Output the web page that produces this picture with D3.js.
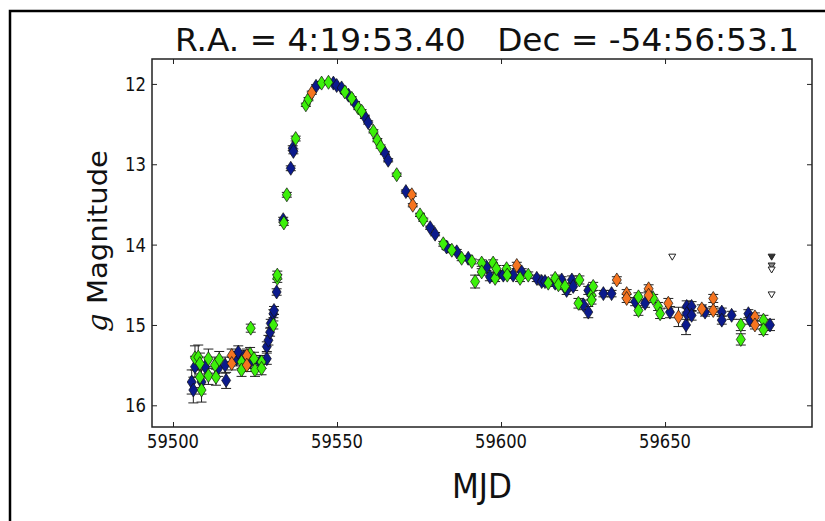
<!DOCTYPE html>
<html>
<head>
<meta charset="utf-8">
<script src="https://cdn.jsdelivr.net/npm/d3@7"></script>
<style>
  body { margin: 0; background: #fff; }
  text { font-family: "DejaVu Sans", sans-serif; fill: #111; white-space: pre; }
</style>
</head>
<body>
<div id="graph"></div>
<script>
// light curve points: [MJD, g mag, error]
const bluePts = [
  [59505.7, 15.71, 0.15], [59506.2, 15.81, 0.16], [59506.7, 15.52, 0.13], [59508.7, 15.71, 0.15],
  [59509.8, 15.52, 0.12], [59513.8, 15.54, 0.10], [59515.9, 15.50, 0.10], [59516.2, 15.69, 0.10],
  [59519.4, 15.42, 0.09], [59519.9, 15.34, 0.08], [59521.6, 15.40, 0.08], [59523.5, 15.46, 0.08],
  [59526.5, 15.46, 0.08], [59528.6, 15.42, 0.07], [59528.6, 15.27, 0.06], [59529.1, 15.19, 0.06],
  [59529.6, 15.09, 0.05], [59529.8, 14.98, 0.05], [59530.6, 14.86, 0.05], [59530.8, 14.82, 0.05],
  [59531.6, 14.59, 0.04], [59533.6, 13.69, 0.03], [59535.9, 13.05, 0.03], [59536.5, 12.80, 0.03],
  [59536.7, 12.84, 0.03], [59543.6, 12.03, 0.02], [59548.9, 11.99, 0.02], [59549.9, 12.02, 0.02],
  [59551.4, 12.05, 0.02], [59553.5, 12.14, 0.02], [59555.5, 12.24, 0.02], [59558.5, 12.41, 0.02],
  [59559.5, 12.48, 0.02], [59564.6, 12.86, 0.02], [59565.6, 12.95, 0.02], [59571.0, 13.34, 0.02],
  [59578.4, 13.79, 0.02], [59579.9, 13.87, 0.02], [59583.4, 14.03, 0.03], [59586.5, 14.09, 0.03],
  [59590.0, 14.17, 0.03], [59595.6, 14.28, 0.04], [59596.6, 14.40, 0.05], [59599.1, 14.36, 0.04],
  [59600.7, 14.38, 0.04], [59603.7, 14.38, 0.04], [59606.3, 14.34, 0.04], [59610.9, 14.42, 0.04],
  [59612.4, 14.46, 0.04], [59613.4, 14.46, 0.04], [59616.5, 14.48, 0.04], [59618.5, 14.44, 0.04],
  [59620.0, 14.57, 0.05], [59621.6, 14.44, 0.05], [59622.0, 14.52, 0.05], [59625.1, 14.75, 0.06],
  [59626.6, 14.84, 0.07], [59626.6, 14.57, 0.05], [59631.2, 14.61, 0.04], [59633.7, 14.61, 0.04],
  [59640.9, 14.71, 0.05], [59643.9, 14.73, 0.05], [59651.5, 14.84, 0.07], [59656.4, 15.00, 0.12],
  [59656.6, 14.77, 0.07], [59656.6, 14.86, 0.07], [59658.1, 14.77, 0.06], [59658.1, 14.88, 0.06],
  [59662.2, 14.84, 0.05], [59667.3, 14.84, 0.05], [59667.3, 14.94, 0.05], [59670.3, 14.88, 0.05],
  [59675.4, 14.86, 0.05], [59675.9, 14.94, 0.05], [59682.0, 15.00, 0.07]
];

const greenPts = [
  [59506.7, 15.41, 0.15], [59507.7, 15.40, 0.15], [59508.2, 15.48, 0.13], [59508.2, 15.65, 0.13],
  [59508.7, 15.81, 0.15], [59510.8, 15.42, 0.12], [59510.8, 15.63, 0.11], [59512.8, 15.50, 0.10],
  [59513.1, 15.65, 0.10], [59514.1, 15.43, 0.10], [59520.9, 15.46, 0.08], [59520.9, 15.56, 0.08],
  [59523.5, 15.36, 0.08], [59523.7, 15.04, 0.05], [59524.7, 15.42, 0.08], [59525.0, 15.56, 0.08],
  [59527.0, 15.46, 0.08], [59527.0, 15.54, 0.08], [59530.6, 15.00, 0.05], [59531.8, 14.42, 0.05],
  [59531.8, 14.38, 0.05], [59533.8, 13.73, 0.03], [59534.7, 13.38, 0.03], [59537.4, 12.68, 0.03],
  [59540.5, 12.26, 0.02], [59541.3, 12.19, 0.02], [59545.3, 11.99, 0.02], [59547.4, 11.98, 0.02],
  [59552.4, 12.10, 0.02], [59554.5, 12.18, 0.02], [59556.5, 12.30, 0.02], [59557.5, 12.34, 0.02],
  [59561.1, 12.59, 0.02], [59562.3, 12.70, 0.02], [59563.3, 12.78, 0.02], [59568.2, 13.13, 0.02],
  [59575.3, 13.63, 0.02], [59576.3, 13.69, 0.02], [59582.4, 13.99, 0.03], [59585.0, 14.07, 0.03],
  [59588.0, 14.17, 0.03], [59591.1, 14.21, 0.03], [59592.1, 14.46, 0.08], [59594.1, 14.23, 0.04],
  [59594.1, 14.34, 0.04], [59597.6, 14.23, 0.04], [59598.2, 14.42, 0.04], [59598.6, 14.30, 0.04],
  [59601.7, 14.30, 0.04], [59601.9, 14.38, 0.04], [59605.8, 14.42, 0.04], [59608.3, 14.38, 0.04],
  [59614.4, 14.48, 0.04], [59616.5, 14.42, 0.04], [59617.5, 14.50, 0.04], [59619.5, 14.52, 0.04],
  [59623.6, 14.73, 0.06], [59623.9, 14.44, 0.05], [59627.6, 14.63, 0.05], [59627.6, 14.69, 0.05],
  [59628.1, 14.52, 0.05], [59641.9, 14.65, 0.05], [59641.9, 14.82, 0.06], [59646.4, 14.67, 0.05],
  [59647.9, 14.77, 0.05], [59648.5, 14.86, 0.06], [59673.1, 15.00, 0.07], [59673.1, 15.18, 0.07],
  [59680.0, 14.94, 0.06], [59680.0, 15.06, 0.06]
];

const orangePts = [
  [59517.9, 15.38, 0.08], [59517.9, 15.48, 0.08], [59522.5, 15.38, 0.08], [59522.5, 15.50, 0.08],
  [59542.3, 12.11, 0.02], [59572.8, 13.38, 0.02], [59573.1, 13.51, 0.02], [59604.8, 14.26, 0.04],
  [59635.3, 14.44, 0.04], [59638.3, 14.61, 0.05], [59638.3, 14.67, 0.05], [59645.0, 14.55, 0.05],
  [59645.0, 14.63, 0.05], [59651.0, 14.73, 0.06], [59654.1, 14.90, 0.12], [59661.2, 14.80, 0.05],
  [59664.7, 14.67, 0.05], [59664.7, 14.82, 0.05], [59677.4, 14.90, 0.05], [59677.4, 15.00, 0.05]
];

// upper limits: [MJD, mag, fill]
const limitPts = [
  [59652.2, 14.15, "#fff"], [59682.5, 14.15, "#333"], [59682.5, 14.26, "#888"],
  [59682.5, 14.31, "#fff"], [59682.5, 14.62, "#fff"]
];

const xTicks = [59500, 59550, 59600, 59650];
const yTicks = [12, 13, 14, 15, 16];
const titleText = "R.A. = 4:19:53.40   Dec = -54:56:53.1";

const svgWidth = 825, svgHeight = 521;
const margin = {top: 59, left: 152, right: 13, bottom: 94};
const width = svgWidth - margin.left - margin.right;
const height = svgHeight - margin.top - margin.bottom;

const root = d3.select('#graph').append('svg')
  .attr('width', svgWidth).attr('height', svgHeight);

// outer frame (only left/top visible)
root.append('rect')
  .attr('x', 10).attr('y', 11).attr('width', 840).attr('height', 540)
  .attr('fill', 'none').attr('stroke', '#000').attr('stroke-width', 2.5);

const svg = root.append('g').attr('transform', `translate(${margin.left},${margin.top})`);

const x = d3.scaleLinear().domain([59493.6, 59694.8]).range([0, width]);
const y = d3.scaleLinear().domain([11.69, 16.27]).range([0, height]);

// ticks (inward, on all sides)
const tl = 5;
svg.append('g').call(d3.axisBottom(x).tickValues(xTicks).tickSize(-tl).tickFormat(''))
  .attr('transform', `translate(0,${height})`);
svg.append('g').call(d3.axisTop(x).tickValues(xTicks).tickSize(-tl).tickFormat(''));
svg.append('g').call(d3.axisLeft(y).tickValues(yTicks).tickSize(-tl).tickFormat(''));
svg.append('g').call(d3.axisRight(y).tickValues(yTicks).tickSize(-tl).tickFormat(''))
  .attr('transform', `translate(${width},0)`);
svg.selectAll('.domain').remove();
svg.selectAll('.tick line').attr('stroke', '#222').attr('stroke-width', 1);

// tick labels (slightly narrow glyphs like the reference)
svg.selectAll('.xlab').data(xTicks).enter().append('text')
  .attr('x', d => x(d)).attr('y', height + 21)
  .attr('text-anchor', 'middle').attr('font-size', 19)
  .attr('textLength', 52).attr('lengthAdjust', 'spacingAndGlyphs')
  .text(d => d);
svg.selectAll('.ylab').data(yTicks).enter().append('text')
  .attr('x', -6).attr('y', d => y(d) + 7)
  .attr('text-anchor', 'end').attr('font-size', 19)
  .attr('textLength', 21).attr('lengthAdjust', 'spacingAndGlyphs')
  .text(d => d);

// error bars
function drawErrors(pts) {
  const eb = svg.append('g').selectAll('.eb').data(pts).enter().append('g')
    .attr('stroke', '#222').attr('stroke-width', 1);
  eb.append('line').attr('x1', d => x(d[0])).attr('x2', d => x(d[0]))
    .attr('y1', d => y(d[1] - d[2])).attr('y2', d => y(d[1] + d[2]));
  eb.append('line').attr('x1', d => x(d[0]) - 5).attr('x2', d => x(d[0]) + 5)
    .attr('y1', d => y(d[1] - d[2])).attr('y2', d => y(d[1] - d[2]));
  eb.append('line').attr('x1', d => x(d[0]) - 5).attr('x2', d => x(d[0]) + 5)
    .attr('y1', d => y(d[1] + d[2])).attr('y2', d => y(d[1] + d[2]));
}
const layers = [[bluePts, '#0b1a8c'], [greenPts, '#3cf00a'], [orangePts, '#f57420']];
layers.forEach(l => drawErrors(l[0]));
layers.forEach(l => {
  svg.append('g').selectAll('path').data(l[0]).enter().append('path')
    .attr('d', 'M0,-7 L4.5,0 L0,7 L-4.5,0 Z')
    .attr('transform', d => `translate(${x(d[0])},${y(d[1])})`)
    .attr('fill', l[1]).attr('stroke', '#111').attr('stroke-width', 0.7);
});

svg.append('g').selectAll('path').data(limitPts).enter().append('path')
  .attr('d', 'M-3.5,-2.5 L3.5,-2.5 L0,3.5 Z')
  .attr('transform', d => `translate(${x(d[0])},${y(d[1])})`)
  .attr('fill', d => d[2]).attr('stroke', '#222').attr('stroke-width', 1);

// spines
svg.append('rect').attr('width', width).attr('height', height)
  .attr('fill', 'none').attr('stroke', '#222').attr('stroke-width', 1.5);

// titles
root.append('text')
  .attr('x', margin.left + width / 2 + 5).attr('y', 51)
  .attr('text-anchor', 'middle').attr('font-size', 32)
  .attr('textLength', 624).attr('lengthAdjust', 'spacingAndGlyphs')
  .text(titleText);

root.append('text')
  .attr('x', margin.left + width / 2).attr('y', 498)
  .attr('text-anchor', 'middle').attr('font-size', 34)
  .attr('textLength', 60).attr('lengthAdjust', 'spacingAndGlyphs')
  .text('MJD');

const yl = root.append('text')
  .attr('transform', `translate(107,${margin.top + height / 2 - 2}) rotate(-90)`)
  .attr('text-anchor', 'middle').attr('font-size', 27)
  .attr('textLength', 182).attr('lengthAdjust', 'spacingAndGlyphs');
yl.append('tspan').attr('font-family', 'DejaVu Serif').attr('font-style', 'italic').text('g');
yl.append('tspan').text(' Magnitude');
</script>
</body>
</html>
